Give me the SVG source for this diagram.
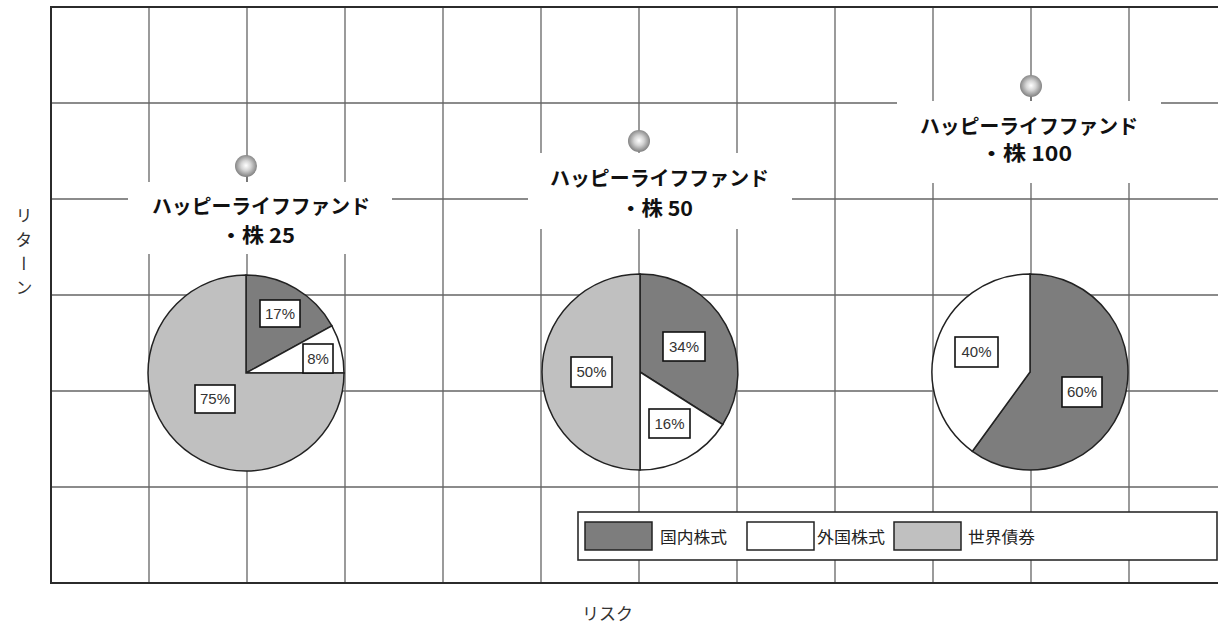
<svg xmlns="http://www.w3.org/2000/svg" width="1218" height="629" viewBox="0 0 1218 629">
<defs>
<radialGradient id="ball" cx="50%" cy="48%" r="50%">
<stop offset="0" stop-color="#ffffff"/>
<stop offset="0.45" stop-color="#d4d4d4"/>
<stop offset="1" stop-color="#858585"/>
</radialGradient>
<style>
.grid{stroke:#666;stroke-width:1.3;fill:none}
.frame{stroke:#2b2b2b;stroke-width:2;fill:none}
.dark{fill:#7d7d7d;stroke:#222;stroke-width:1.5}
.white{fill:#ffffff;stroke:#222;stroke-width:1.5}
.light{fill:#c0c0c0;stroke:#222;stroke-width:1.5}
.lbox{fill:#fff;stroke:#111;stroke-width:1.6}
.pct{font-family:"Liberation Sans",Arial,sans-serif;font-size:15px;fill:#333;text-anchor:middle}
.title{font-family:"Noto Sans CJK JP",sans-serif;font-size:20px;font-weight:bold;fill:#111}
.leg{font-family:"Noto Sans CJK JP",sans-serif;font-size:16px;fill:#222}
.axis{font-family:"Noto Sans CJK JP",sans-serif;font-size:17px;fill:#333}
.bg{fill:#fff;stroke:none}
</style>
</defs>
<rect width="1218" height="629" fill="#fff"/>
<g id="grid">
<path class="grid" d="M149,7V583M247,7V583M345,7V583M443,7V583M541,7V583M639,7V583M737,7V583M835,7V583M933,7V583M1031,7V583M1129,7V583"/>
<path class="grid" d="M51,103H1218M51,199H1218M51,295H1218M51,391H1218M51,487H1218"/>
</g>
<g id="frame">
<path class="frame" d="M1218,7H51V583H1218"/>
</g>
<g id="axis-labels">
<text class="axis" x="582" y="620">リスク</text>
<text class="axis" x="24" y="207" style="writing-mode:vertical-rl;letter-spacing:7px">リターン</text>
</g>
<g id="fund25">
<rect class="bg" x="128" y="182" width="264" height="72"/>
<path class="grid" d="M247,155V182"/>
<circle cx="246" cy="166" r="11" fill="url(#ball)"/>
<text class="title" x="152" y="214" textLength="218" lengthAdjust="spacingAndGlyphs">ハッピーライフファンド</text>
<text class="title" x="220" y="243" textLength="75" lengthAdjust="spacingAndGlyphs">・株 25</text>
<path class="dark" d="M246,373L246,275A98,98 0 0 1 331.9,325.8Z"/>
<path class="white" d="M246,373L331.9,325.8A98,98 0 0 1 344,373Z"/>
<path class="light" d="M246,373L344,373A98,98 0 1 1 246,275Z"/>
<rect class="lbox" x="260" y="300" width="40" height="27"/>
<text class="pct" x="280" y="319">17%</text>
<rect class="lbox" x="303" y="344" width="30" height="29"/>
<text class="pct" x="318" y="364">8%</text>
<rect class="lbox" x="195" y="385" width="40" height="28"/>
<text class="pct" x="215" y="404">75%</text>
</g>
<g id="fund50">
<rect class="bg" x="528" y="153" width="264" height="76"/>
<circle cx="639" cy="141" r="11" fill="url(#ball)"/>
<text class="title" x="550" y="186" textLength="219" lengthAdjust="spacingAndGlyphs">ハッピーライフファンド</text>
<text class="title" x="620" y="216" textLength="73" lengthAdjust="spacingAndGlyphs">・株 50</text>
<path class="dark" d="M640,372L640,274A98,98 0 0 1 722.7,424.5Z"/>
<path class="white" d="M640,372L722.7,424.5A98,98 0 0 1 640,470Z"/>
<path class="light" d="M640,372L640,470A98,98 0 0 1 640,274Z"/>
<rect class="lbox" x="663" y="332" width="42" height="29"/>
<text class="pct" x="684" y="352">34%</text>
<rect class="lbox" x="649" y="409" width="41" height="29"/>
<text class="pct" x="669.5" y="429">16%</text>
<rect class="lbox" x="571" y="357" width="41" height="30"/>
<text class="pct" x="591.5" y="377">50%</text>
</g>
<g id="fund100">
<rect class="bg" x="897" y="101" width="264" height="82"/>
<path class="grid" d="M1031,96V101"/>
<circle cx="1031" cy="86" r="11" fill="url(#ball)"/>
<text class="title" x="920" y="134" textLength="218" lengthAdjust="spacingAndGlyphs">ハッピーライフファンド</text>
<text class="title" x="980" y="161" textLength="92" lengthAdjust="spacingAndGlyphs">・株 100</text>
<path class="dark" d="M1030,372L1030,274A98,98 0 1 1 972.4,451.3Z"/>
<path class="white" d="M1030,372L972.4,451.3A98,98 0 0 1 1030,274Z"/>
<rect class="lbox" x="955" y="337" width="43" height="30"/>
<text class="pct" x="976.5" y="357">40%</text>
<rect class="lbox" x="1062" y="377" width="40" height="30"/>
<text class="pct" x="1082" y="397">60%</text>
</g>
<g id="legend">
<rect x="578" y="512" width="639" height="48" fill="#fff" stroke="#2b2b2b" stroke-width="1.6"/>
<rect class="dark" x="585" y="522" width="67" height="28"/>
<text class="leg" x="660" y="543" textLength="67" lengthAdjust="spacingAndGlyphs">国内株式</text>
<rect class="white" x="747" y="522" width="67" height="28"/>
<text class="leg" x="817" y="543" textLength="68" lengthAdjust="spacingAndGlyphs">外国株式</text>
<rect class="light" x="894" y="522" width="67" height="28"/>
<text class="leg" x="968" y="543" textLength="67" lengthAdjust="spacingAndGlyphs">世界債券</text>
</g>
</svg>
